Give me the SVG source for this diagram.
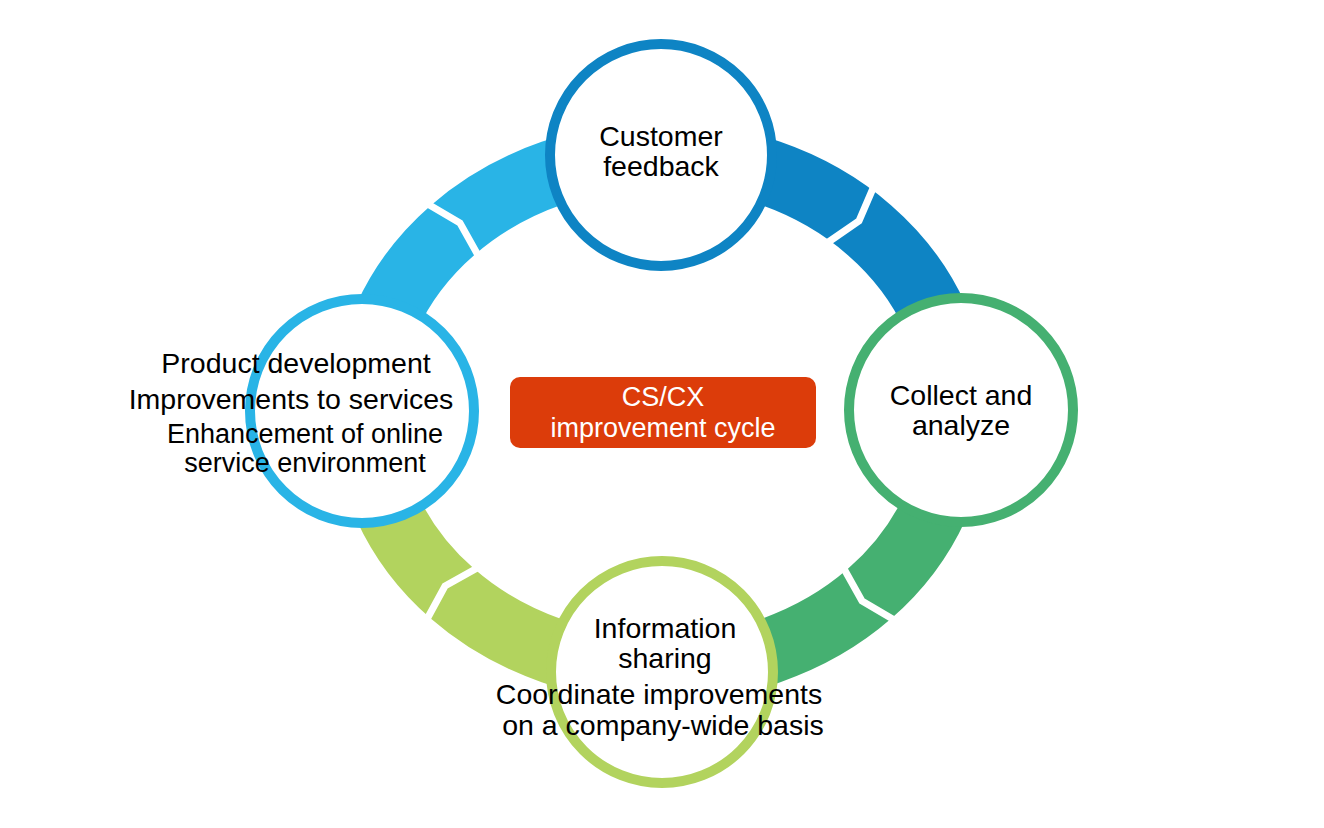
<svg xmlns="http://www.w3.org/2000/svg" width="1324" height="828" viewBox="0 0 1324 828">
<style>
.arc{fill:none;stroke-width:66}
.chev{fill:none;stroke:#fff;stroke-width:7;stroke-linejoin:miter}
.node{fill:#fff;stroke-width:10}
text{font-family:"Liberation Sans",Arial,sans-serif;font-size:28.5px;fill:#000;text-anchor:middle}
.sm{font-size:27px}
</style>
<rect width="1324" height="828" fill="#fff"/>
<g id="connectors">
<path class="arc" stroke="#0e84c4" d="M661 155 A295 257 0 0 1 956 412"/>
<path class="arc" stroke="#45b071" d="M956 412 A295 257 0 0 1 661 669"/>
<path class="arc" stroke="#b2d35e" d="M661 669 A295 257 0 0 1 366 412"/>
<path class="arc" stroke="#29b4e6" d="M366 412 A295 257 0 0 1 661 155"/>
<polyline class="chev" points="874,186 859,221 827,243"/>
<polyline class="chev" points="896,621 862,601 843,567"/>
<polyline class="chev" points="426,621 445,586 479,567"/>
<polyline class="chev" points="426,203 460,223 479,257"/>
</g>
<g id="node-top"><circle class="node" stroke="#0e84c4" cx="661" cy="155" r="111"/>
<text x="661" y="146">Customer</text><text x="661" y="176">feedback</text></g>
<g id="node-right"><circle class="node" stroke="#45b071" cx="961" cy="410" r="112"/>
<text x="961" y="405">Collect and</text><text x="961" y="435">analyze</text></g>
<g id="node-bottom"><circle class="node" stroke="#b2d35e" cx="662" cy="672" r="111"/>
<text x="665" y="638">Information</text><text x="665" y="668">sharing</text>
<text x="659" y="704">Coordinate improvements</text><text x="663" y="735">on a company-wide basis</text></g>
<g id="node-left"><circle class="node" stroke="#29b4e6" cx="362" cy="411" r="112"/>
<text x="296" y="373">Product development</text><text x="291" y="409">Improvements to services</text>
<text x="305" y="443" class="sm">Enhancement of online</text><text x="305" y="472" class="sm">service environment</text></g>
<g id="center"><rect x="510" y="377" width="306" height="71" rx="10" fill="#dc3c0a"/>
<text x="663" y="406" class="sm" style="fill:#fff">CS/CX</text><text x="663" y="437" class="sm" style="fill:#fff">improvement cycle</text></g>
</svg>
